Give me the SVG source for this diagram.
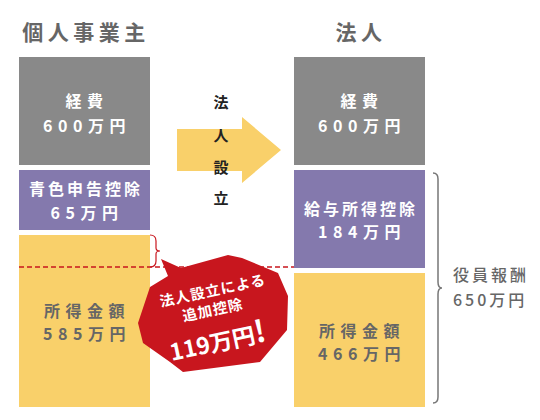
<svg xmlns="http://www.w3.org/2000/svg" width="540" height="420" viewBox="0 0 540 420">
<style>
text{font-family:"Noto Sans CJK JP","Noto Sans",sans-serif;font-weight:bold;text-anchor:middle}
.title{font-size:21px;fill:#666;letter-spacing:4.5px}
.w{fill:#fff;font-size:16px;letter-spacing:5.5px}
.w2{fill:#fff;font-size:16px;letter-spacing:3px}
.g{fill:#666;font-size:16px;letter-spacing:5.5px}
.side{fill:#666;font-size:16px;font-weight:500;text-anchor:start;letter-spacing:3px}
.gray{fill:#898989}
.purple{fill:#8479ad}
.yellow{fill:#f9d06a}
.arr{fill:#222;font-size:15px}
</style>
<rect width="540" height="420" fill="#fff"/>
<text class="title" x="86" y="40">個人事業主</text>
<text class="title" x="361" y="40">法人</text>

<g id="kojin-keihi">
<rect class="gray" x="19" y="57" width="131" height="108"/>
<text class="w" x="87" y="107">経費</text>
<text class="w" x="87" y="132">600万円</text>
</g>
<g id="aoiro">
<rect class="purple" x="19" y="170" width="131" height="60"/>
<text class="w2" x="86" y="195">青色申告控除</text>
<text class="w" x="87" y="219">65万円</text>
</g>
<g id="kojin-shotoku">
<rect class="yellow" x="19" y="235" width="131" height="172"/>
<text class="g" x="87" y="317">所得金額</text>
<text class="g" x="87" y="340">585万円</text>
</g>

<g id="hojin-keihi">
<rect class="gray" x="294" y="57" width="131" height="108"/>
<text class="w" x="362" y="107">経費</text>
<text class="w" x="362" y="132">600万円</text>
</g>
<g id="kyuyo">
<rect class="purple" x="294" y="170" width="131" height="98"/>
<text class="w2" x="361" y="215">給与所得控除</text>
<text class="w" x="362" y="238">184万円</text>
</g>
<g id="hojin-shotoku">
<rect class="yellow" x="294" y="273" width="131" height="134"/>
<text class="g" x="362" y="337">所得金額</text>
<text class="g" x="362" y="360">466万円</text>
</g>

<g id="arrow">
<polygon class="yellow" points="177,129 242,129 242,117 281,150 242,183 242,171 177,171"/>
<text class="arr" x="221" y="108">法</text>
<text class="arr" x="221" y="141">人</text>
<text class="arr" x="221" y="173">設</text>
<text class="arr" x="221" y="204">立</text>
</g>

<g id="connectors" fill="none">
<line x1="19" y1="267" x2="294" y2="267" stroke="#c8161e" stroke-width="1.5" stroke-dasharray="5,3"/>
<path d="M150,235 Q156,235 156,241 L156,248 Q156,251 160,251 Q156,251 156,254 L156,261 Q156,267 150,267" stroke="#c8161e" stroke-width="1.2"/>
<path d="M433,173 Q438,173 438,179 L438,282 Q438,288 442,288 Q438,288 438,294 L438,397 Q438,403 433,403" stroke="#777" stroke-width="1.5"/>
</g>

<g id="yakuin">
<text class="side" x="453" y="281">役員報酬</text>
<text class="side" x="453" y="306">650万円</text>
</g>

<g id="bubble">
<polygon fill="#c8161e" points="161,259 181,268 228,255 242,258 278,273 288,296 287,330 260,362 183,372 170,362 143,343 138,323 150,287 168,276"/>
<g transform="rotate(-12 215 320)" fill="#fff">
<text x="219" y="296" style="font-size:14.5px;fill:#fff;letter-spacing:1px">法人設立による</text>
<text x="215" y="315" style="font-size:14.5px;fill:#fff;letter-spacing:1px">追加控除</text>
<text x="213" y="351" style="font-size:23px;fill:#fff">119万円<tspan style="font-size:30px">!</tspan></text>
</g>
</g>
</svg>
